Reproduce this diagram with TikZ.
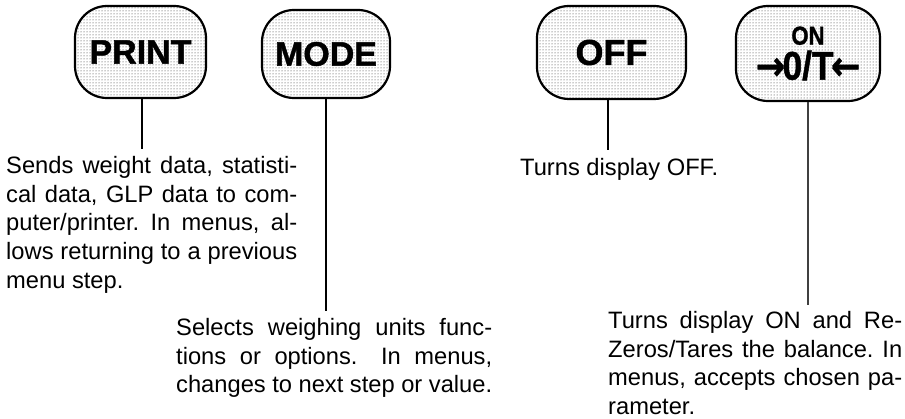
\documentclass[tikz,border=0pt]{standalone}
\usepackage{fontspec}
\setmainfont{Liberation Sans}
\newfontfamily\heavy{Liberation Sans Bold}[FakeBold=1.3]
\newfontfamily\heavyarrow{DejaVu Sans Bold}[FakeBold=1.3]
\usetikzlibrary{patterns}
\begin{document}
\begin{tikzpicture}[x=1pt,y=-1pt,
  btn/.style={draw=black, line width=2.2pt, rounded corners=32pt,
    pattern=dots, pattern color=black!85, inner sep=0pt, align=center,
    font=\heavy\fontsize{34}{34}\selectfont},
  desc/.style={anchor=base west, inner sep=0pt,
    font=\fontsize{23.7}{28.7}\selectfont\frenchspacing},
  lead/.style={line width=1.1pt, draw=black}]
\useasboundingbox (0,0) rectangle (905,419);

% buttons
\node[btn, minimum width=131pt, minimum height=92pt] (print) at (140.5,52) {PRINT};
\node[btn, minimum width=128pt, minimum height=88pt] (mode) at (326,54) {MODE};
\node[btn, minimum width=149pt, minimum height=93pt, font=\heavy\fontsize{36}{36}\selectfont] (off) at (611.5,52.5) {OFF};
\node[btn, minimum width=144pt, minimum height=95pt] (on) at (808,53.5)
  {\scalebox{0.85}[1]{\fontsize{26}{26}\selectfont ON}\\[1pt]
   \scalebox{0.88}[1]{\fontsize{40}{40}\selectfont{\heavyarrow→}\kern-3pt 0/T\kern-3pt{\heavyarrow←}}};

% descriptions
\node[desc] (ptext) at (6,173.5) {\parbox[t]{291pt}{%
  \makebox[291pt][s]{Sends weight data, statisti-}\\
  \makebox[291pt][s]{cal data, GLP data to com-}\\
  \makebox[291pt][s]{puter/printer. In menus, al-}\\
  \makebox[291pt][s]{lows returning to a previous}\\
  menu step.}};
\node[desc] (mtext) at (176,335.5) {\parbox[t]{316pt}{%
  \makebox[316pt][s]{Selects weighing units func-}\\
  \makebox[316pt][s]{tions or options.\hspace{10pt} In menus,}\\
  \makebox[316pt][s]{changes to next step or value.}}};
\node[desc] (otext) at (520,175.5) {Turns display OFF.};
\node[desc] (ntext) at (608,328.5) {\parbox[t]{294pt}{%
  \makebox[294pt][s]{Turns display ON and Re-}\\
  \makebox[294pt][s]{Zeros/Tares the balance. In}\\
  \makebox[294pt][s]{menus, accepts chosen pa-}\\
  rameter.}};

% leaders
\coordinate (pe) at (142,149);
\coordinate (me) at (326,311);
\coordinate (oe) at (608,150);
\coordinate (ne) at (808,305);
\draw[lead] (print.south -| pe) -- (pe);
\draw[lead] (mode.south -| me) -- (me);
\draw[lead] (off.south -| oe) -- (oe);
\draw[lead, draw=black!75] (on.south -| ne) -- (ne);
\end{tikzpicture}
\end{document}
